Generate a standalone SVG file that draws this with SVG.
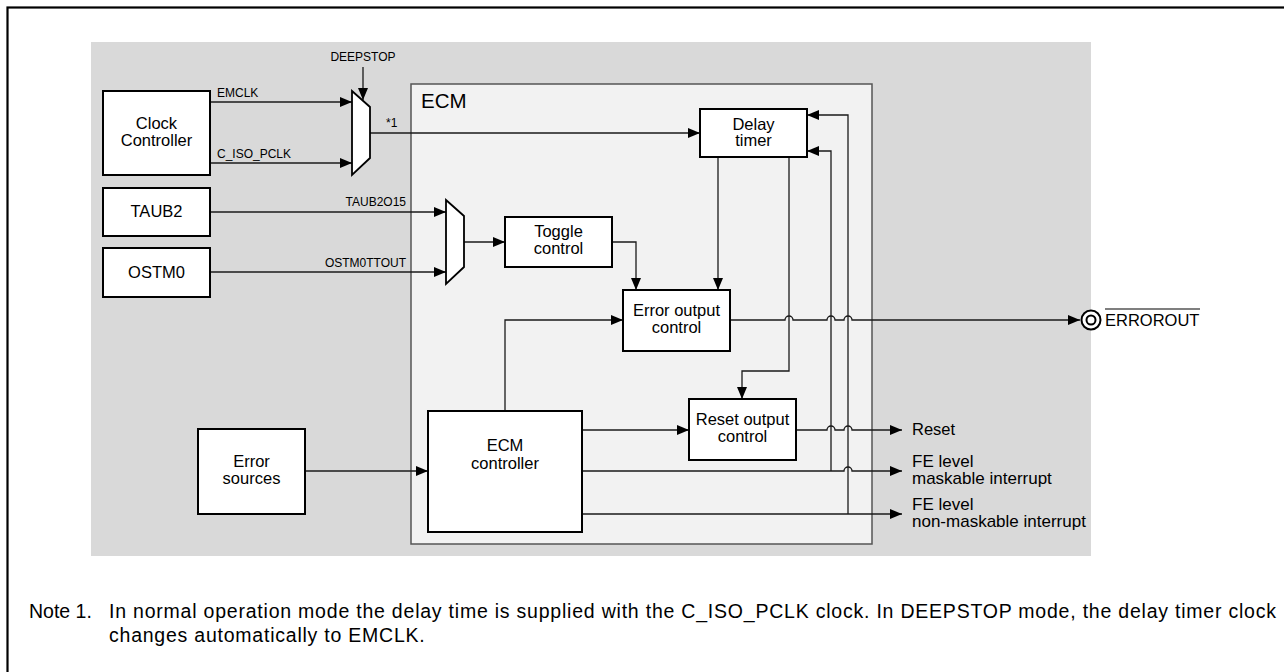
<svg xmlns="http://www.w3.org/2000/svg" width="1284" height="672" viewBox="0 0 1284 672">
<style>
.box{fill:#fff;stroke:#000;stroke-width:2}
.mux{fill:#fff;stroke:#000;stroke-width:1.8}
.ln{fill:none;stroke:#1a1a1a;stroke-width:1.3}
.t{font-family:"Liberation Sans",Arial,sans-serif;fill:#000}
.bt{font-size:16.5px;text-anchor:middle}
.st{font-size:12px}
.ot{font-size:17px}
.nt{font-size:19.5px}
</style>
<defs>
<marker id="ah" markerWidth="12" markerHeight="10" refX="12" refY="5" orient="auto" markerUnits="userSpaceOnUse">
<path d="M0,0 L12,5 L0,10 z" fill="#000"/>
</marker>
</defs>
<rect x="0" y="0" width="1284" height="672" fill="#fff"/>
<rect x="7.5" y="7.5" width="1290" height="680" fill="none" stroke="#000" stroke-width="2.2"/>
<rect x="91" y="42" width="1000" height="514" fill="#d9d9d9"/>
<g id="ecm">
<rect x="411" y="84" width="461" height="460" fill="#f2f2f2" stroke="#555" stroke-width="1.5"/>
<text class="t" x="421" y="108" font-size="20.5">ECM</text>
</g>
<g id="connectors">
<line class="ln" x1="210" y1="102" x2="352" y2="102" marker-end="url(#ah)"/>
<line class="ln" x1="210" y1="163" x2="352" y2="163" marker-end="url(#ah)"/>
<line class="ln" x1="363" y1="67" x2="363" y2="100" marker-end="url(#ah)"/>
<line class="ln" x1="370" y1="133" x2="700" y2="133" marker-end="url(#ah)"/>
<line class="ln" x1="210" y1="212" x2="446" y2="212" marker-end="url(#ah)"/>
<line class="ln" x1="210" y1="272" x2="446" y2="272" marker-end="url(#ah)"/>
<line class="ln" x1="464" y1="242" x2="505" y2="242" marker-end="url(#ah)"/>
<polyline class="ln" points="612,242 636,242 636,290" marker-end="url(#ah)"/>
<line class="ln" x1="718" y1="157" x2="718" y2="290" marker-end="url(#ah)"/>
<polyline class="ln" points="789,157 789,371 742,371 742,399" marker-end="url(#ah)"/>
<polyline class="ln" points="505,411 505,320 623,320" marker-end="url(#ah)"/>
<line class="ln" x1="305" y1="471" x2="428" y2="471" marker-end="url(#ah)"/>
<line class="ln" x1="582" y1="430" x2="689" y2="430" marker-end="url(#ah)"/>
<polyline class="ln" points="831,471 831,151 807,151" marker-end="url(#ah)"/>
<polyline class="ln" points="848,514 848,115 807,115" marker-end="url(#ah)"/>
<path class="ln" d="M730,320 H785 a4,4 0 0 1 8,0 H827 a4,4 0 0 1 8,0 H844 a4,4 0 0 1 8,0 H1080" marker-end="url(#ah)"/>
<path class="ln" d="M796,430 H827 a4,4 0 0 1 8,0 H844 a4,4 0 0 1 8,0 H902" marker-end="url(#ah)"/>
<path class="ln" d="M582,471 H844 a4,4 0 0 1 8,0 H902" marker-end="url(#ah)"/>
<line class="ln" x1="582" y1="514" x2="902" y2="514" marker-end="url(#ah)"/>
</g>
<g id="labels">
<text class="t st" x="217" y="97">EMCLK</text>
<text class="t st" x="217" y="158">C_ISO_PCLK</text>
<text class="t st" x="363" y="61" text-anchor="middle" font-size="11.5">DEEPSTOP</text>
<text class="t st" x="386" y="127" font-size="11">*1</text>
<text class="t st" x="406" y="206" text-anchor="end">TAUB2O15</text>
<text class="t st" x="406" y="267" text-anchor="end">OSTM0TTOUT</text>
</g>
<g id="clock-controller">
<rect class="box" x="103" y="91" width="107" height="84"/>
<text class="t bt" x="156.5" y="129">Clock</text>
<text class="t bt" x="156.5" y="146">Controller</text>
</g>
<g id="taub2">
<rect class="box" x="103" y="188" width="107" height="48"/>
<text class="t bt" x="156.5" y="217">TAUB2</text>
</g>
<g id="ostm0">
<rect class="box" x="103" y="248" width="107" height="49"/>
<text class="t bt" x="156.5" y="278">OSTM0</text>
</g>
<g id="error-sources">
<rect class="box" x="198" y="429" width="107" height="85"/>
<text class="t bt" x="251.5" y="467">Error</text>
<text class="t bt" x="251.5" y="484">sources</text>
</g>
<g id="mux-clock">
<polygon class="mux" points="352,91 370,107 370,158 352,175"/>
</g>
<g id="mux-toggle">
<polygon class="mux" points="446,200 464,216 464,267 446,284"/>
</g>
<g id="toggle-control">
<rect class="box" x="505" y="217" width="107" height="50"/>
<text class="t bt" x="558.5" y="237">Toggle</text>
<text class="t bt" x="558.5" y="254">control</text>
</g>
<g id="delay-timer">
<rect class="box" x="700" y="109" width="107" height="48"/>
<text class="t bt" x="753.5" y="130">Delay</text>
<text class="t bt" x="753.5" y="146">timer</text>
</g>
<g id="error-output-control">
<rect class="box" x="623" y="290" width="107" height="61"/>
<text class="t bt" x="676.5" y="316">Error output</text>
<text class="t bt" x="676.5" y="333">control</text>
</g>
<g id="reset-output-control">
<rect class="box" x="689" y="399" width="107" height="61"/>
<text class="t bt" x="742.5" y="425">Reset output</text>
<text class="t bt" x="742.5" y="442">control</text>
</g>
<g id="ecm-controller">
<rect class="box" x="428" y="411" width="154" height="121"/>
<text class="t bt" x="505" y="451">ECM</text>
<text class="t bt" x="505" y="469">controller</text>
</g>
<g id="errorout-pin">
<circle cx="1091" cy="320" r="9.5" fill="#fff" stroke="#000" stroke-width="2"/>
<circle cx="1091" cy="320" r="4.5" fill="none" stroke="#000" stroke-width="2"/>
<text class="t" x="1105" y="326" font-size="16.5">ERROROUT</text>
<line x1="1105" y1="309" x2="1200" y2="309" stroke="#000" stroke-width="1.2"/>
</g>
<g id="outputs">
<text class="t" x="912" y="435" font-size="16.5">Reset</text>
<text class="t ot" x="912" y="467">FE level</text>
<text class="t ot" x="912" y="484">maskable interrupt</text>
<text class="t ot" x="912" y="510">FE level</text>
<text class="t ot" x="912" y="527">non-maskable interrupt</text>
</g>
<g id="note">
<text class="t nt" x="29" y="618">Note 1.</text>
<text class="t nt" x="109" y="618" textLength="1167" lengthAdjust="spacing">In normal operation mode the delay time is supplied with the C_ISO_PCLK clock. In DEEPSTOP mode, the delay timer clock</text>
<text class="t nt" x="109" y="642" letter-spacing="0.77">changes automatically to EMCLK.</text>
</g>
</svg>
